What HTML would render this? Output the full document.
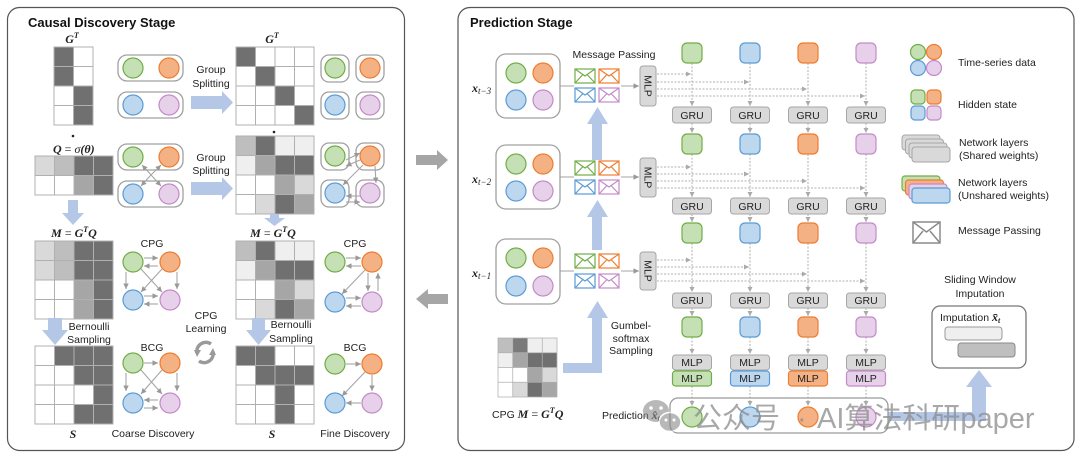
<!DOCTYPE html>
<html><head><meta charset="utf-8"><style>
html,body{margin:0;padding:0;background:#fff;overflow:hidden}
svg{display:block}
text{font-family:"Liberation Sans","Noto Sans CJK SC",sans-serif;fill:#222;font-size:10.5px}
.t{font-size:13px;font-weight:bold;fill:#111}
.m{font-family:"Liberation Serif",serif;font-weight:bold;font-style:italic;font-size:12px}
.c{text-anchor:middle}
.cg{fill:#c5e0b4;stroke:#70ad47;stroke-width:1.2}
.co{fill:#f4b183;stroke:#ed7d31;stroke-width:1.2}
.cb{fill:#bdd7ee;stroke:#5b9bd5;stroke-width:1.2}
.cp{fill:#e6d0ea;stroke:#c48ac8;stroke-width:1.2}
.pill{fill:#fff;stroke:#a0a0a0;stroke-width:1.3}
.gr{fill:none;stroke:#b0b0b0;stroke-width:1}
.a{stroke:#a6a6a6;stroke-width:1.1;fill:none;marker-end:url(#ah)}
.d{stroke:#b0b0b0;stroke-width:1;stroke-dasharray:2 1.5;fill:none;marker-end:url(#ah2)}
.bl{fill:#b4c7e7}
.box{fill:#d9d9d9;stroke:#a6a6a6;stroke-width:1}
.D{fill:#707070}.M1{fill:#a6a6a6}.M2{fill:#bebebe}.L{fill:#d9d9d9}.VL{fill:#efefef}
</style></head><body>
<svg width="1080" height="461" viewBox="0 0 1080 461" xmlns="http://www.w3.org/2000/svg">
<defs>
<marker id="ah" viewBox="0 0 6 6" markerWidth="5" markerHeight="5" refX="6" refY="3" orient="auto"><path d="M0,0L6,3L0,6z" fill="#999"/></marker>
<marker id="ah2" viewBox="0 0 6 6" markerWidth="5" markerHeight="5" refX="6" refY="3" orient="auto"><path d="M0,0L6,3L0,6z" fill="#aaa"/></marker>
</defs>

<!-- panels -->
<rect x="7.5" y="7.5" width="397" height="443" rx="12" fill="#fff" stroke="#555" stroke-width="1.2"/>
<rect x="458" y="7.5" width="616" height="443" rx="12" fill="#fff" stroke="#555" stroke-width="1.2"/>
<text class="t" x="28" y="27">Causal Discovery Stage</text>
<text class="t" x="470" y="27">Prediction Stage</text>

<!-- gray arrows between panels -->
<path fill="#a6a6a6" d="M416,155H437V150L448,160L437,170V165H416Z"/>
<path fill="#a6a6a6" d="M448,294H428V289L416,299L428,309V304H448Z"/>

<!-- ===== LEFT PANEL ===== -->
<text class="m c" x="72" y="43">G<tspan font-size="8" dy="-5">T</tspan></text>
<g transform="translate(54,47)">
<rect width="39" height="78" fill="#fff"/>
<rect class="D" x="0" y="0" width="19.5" height="39"/>
<rect class="D" x="19.5" y="39" width="19.5" height="39"/>
<path class="gr" d="M19.5,0V78M0,19.5H39M0,39H39M0,58.5H39"/>
<rect class="gr" width="39" height="78"/>
</g>
<circle cx="73" cy="136" r="1.3" fill="#222"/>
<text class="m" x="53" y="153">Q <tspan font-style="normal" font-weight="normal">=</tspan> <tspan font-weight="normal">σ</tspan>(θ)</text>
<g transform="translate(35,156)">
<rect width="78" height="39" fill="#fff"/>
<rect class="L" x="0" y="0" width="19.5" height="19.5"/>
<rect class="M2" x="19.5" y="0" width="19.5" height="19.5"/>
<rect class="D" x="39" y="0" width="39" height="19.5"/>
<rect class="M1" x="39" y="19.5" width="19.5" height="19.5"/>
<rect class="D" x="58.5" y="19.5" width="19.5" height="19.5"/>
<path class="gr" d="M19.5,0V39M39,0V39M58.5,0V39M0,19.5H78"/>
<rect class="gr" width="78" height="39"/>
</g>
<path class="bl" d="M68,200H78V213H84L73,225L62,213H68Z"/>

<!-- group nodes left -->
<rect class="pill" x="118" y="55" width="65" height="26" rx="9"/>
<rect class="pill" x="118" y="92" width="65" height="26" rx="9"/>
<circle class="cg" cx="133" cy="68" r="10"/><circle class="co" cx="169" cy="68" r="10"/>
<circle class="cb" cx="133" cy="105" r="10"/><circle class="cp" cx="169" cy="105" r="10"/>

<rect class="pill" x="118" y="144" width="65" height="26" rx="9"/>
<rect class="pill" x="118" y="181" width="65" height="26" rx="9"/>
<circle class="cg" cx="133" cy="157" r="10"/><circle class="co" cx="169" cy="157" r="10"/>
<circle class="cb" cx="133" cy="194" r="10"/><circle class="cp" cx="169" cy="194" r="10"/>
<path class="a" d="M152,176L142,165"/>
<path class="a" d="M150,176L161,165"/>
<path class="a" d="M150,176L141,186"/>
<path class="a" d="M152,176L161,186"/>

<text class="c" x="211" y="73">Group</text><text class="c" x="211" y="87">Splitting</text>
<text class="c" x="211" y="161">Group</text><text class="c" x="211" y="174">Splitting</text>
<path class="bl" d="M191,96H222V91L233,102.5L222,114V109H191Z"/>
<path class="bl" d="M191,182H222V177L233,188.5L222,200V195H191Z"/>

<!-- right G^T -->
<text class="m c" x="272" y="43">G<tspan font-size="8" dy="-5">T</tspan></text>
<g transform="translate(236,47)">
<rect width="78" height="78" fill="#fff"/>
<rect class="D" x="0" y="0" width="19.5" height="19.5"/>
<rect class="D" x="19.5" y="19.5" width="19.5" height="19.5"/>
<rect class="D" x="39" y="39" width="19.5" height="19.5"/>
<rect class="D" x="58.5" y="58.5" width="19.5" height="19.5"/>
<path class="gr" d="M19.5,0V78M39,0V78M58.5,0V78M0,19.5H78M0,39H78M0,58.5H78"/>
<rect class="gr" width="78" height="78"/>
</g>
<circle cx="274" cy="132" r="1.3" fill="#222"/>
<!-- fine Q -->
<g transform="translate(236,136)">
<rect width="78" height="78" fill="#fff"/>
<rect class="M2" x="0" y="0" width="19.5" height="19.5"/><rect class="D" x="19.5" y="0" width="19.5" height="19.5"/><rect class="VL" x="39" y="0" width="39" height="19.5"/>
<rect class="VL" x="0" y="19.5" width="19.5" height="19.5"/><rect class="M1" x="19.5" y="19.5" width="19.5" height="19.5"/><rect class="D" x="39" y="19.5" width="39" height="19.5"/>
<rect class="M1" x="39" y="39" width="19.5" height="19.5"/><rect class="L" x="58.5" y="39" width="19.5" height="19.5"/>
<rect class="L" x="19.5" y="58.5" width="19.5" height="19.5"/><rect class="D" x="39" y="58.5" width="19.5" height="19.5"/><rect class="M1" x="58.5" y="58.5" width="19.5" height="19.5"/>
<path class="gr" d="M19.5,0V78M39,0V78M58.5,0V78M0,19.5H78M0,39H78M0,58.5H78"/>
<rect class="gr" width="78" height="78"/>
</g>
<path class="bl" d="M270,214H279V218H285L274.5,226L264,218H270Z"/>

<!-- right nodes -->
<rect class="pill" x="321" y="55" width="28" height="27" rx="8"/><rect class="pill" x="356" y="55" width="28" height="27" rx="8"/>
<rect class="pill" x="321" y="92" width="28" height="27" rx="8"/><rect class="pill" x="356" y="92" width="28" height="27" rx="8"/>
<circle class="cg" cx="335" cy="68" r="10"/><circle class="co" cx="370" cy="68" r="10"/>
<circle class="cb" cx="335" cy="105" r="10"/><circle class="cp" cx="370" cy="105" r="10"/>
<rect class="pill" x="321" y="143" width="28" height="27" rx="8"/><rect class="pill" x="356" y="143" width="28" height="27" rx="8"/>
<rect class="pill" x="321" y="180" width="28" height="27" rx="8"/><rect class="pill" x="356" y="180" width="28" height="27" rx="8"/>
<circle class="cg" cx="335" cy="156" r="10"/><circle class="co" cx="370" cy="156" r="10"/>
<circle class="cb" cx="335" cy="193" r="10"/><circle class="cp" cx="370" cy="193" r="10"/>
<path class="a" d="M346,160L360,153"/>
<path class="a" d="M360,160L346,166"/>
<path class="a" d="M363,165L343,185"/>
<path class="a" d="M375,166L376,183"/>
<path class="a" d="M360,196L346,196"/>
<path class="a" d="M346,202L360,202"/>

<!-- coarse M -->
<text class="m c" x="74" y="237">M <tspan font-style="normal" font-weight="normal">=</tspan> G<tspan font-size="8" dy="-5">T</tspan><tspan dy="5">Q</tspan></text>
<g transform="translate(35,241)">
<rect width="78" height="78" fill="#fff"/>
<rect class="L" x="0" y="0" width="19.5" height="39"/><rect class="M2" x="19.5" y="0" width="19.5" height="39"/><rect class="D" x="39" y="0" width="39" height="39"/>
<rect class="M1" x="39" y="39" width="19.5" height="39"/><rect class="D" x="58.5" y="39" width="19.5" height="39"/>
<path class="gr" d="M19.5,0V78M39,0V78M58.5,0V78M0,19.5H78M0,39H78M0,58.5H78"/>
<rect class="gr" width="78" height="78"/>
</g>
<path class="bl" d="M48,318H62V330H68L55,345L42,330H48Z"/>
<text class="c" x="89" y="330">Bernoulli</text><text class="c" x="89" y="343">Sampling</text>
<!-- coarse S -->
<g transform="translate(35,346)">
<rect width="78" height="78" fill="#fff"/>
<rect class="D" x="19.5" y="0" width="58.5" height="19.5"/>
<rect class="D" x="39" y="19.5" width="39" height="19.5"/>
<rect class="D" x="58.5" y="39" width="19.5" height="19.5"/>
<rect class="D" x="39" y="58.5" width="39" height="19.5"/>
<path class="gr" d="M19.5,0V78M39,0V78M58.5,0V78M0,19.5H78M0,39H78M0,58.5H78"/>
<rect class="gr" width="78" height="78"/>
</g>
<text class="m c" x="73" y="438">S</text>

<!-- coarse CPG graph -->
<text class="c" x="152" y="247">CPG</text>
<path class="a" d="M144,258L158,258"/><path class="a" d="M158,266L144,266"/>
<path class="a" d="M126,272L126,289"/><path class="a" d="M177,272L177,289"/>
<path class="a" d="M141,269L162,292"/><path class="a" d="M162,269L141,292"/>
<path class="a" d="M144,296L158,296"/><path class="a" d="M158,304L144,304"/>
<circle class="cg" cx="133" cy="262" r="10"/><circle class="co" cx="170" cy="262" r="10"/>
<circle class="cb" cx="133" cy="300" r="10"/><circle class="cp" cx="170" cy="300" r="10"/>

<text class="c" x="206" y="319">CPG</text><text class="c" x="206" y="332">Learning</text>
<path d="M211,344A9,9 0 0 0 197,353" stroke="#9a9a9a" stroke-width="3.5" fill="none"/>
<path d="M194,350L201,350L197,357Z" fill="#9a9a9a"/>
<path d="M199,361A9,9 0 0 0 213,352" stroke="#9a9a9a" stroke-width="3.5" fill="none"/>
<path d="M216,355L209,355L213,348Z" fill="#9a9a9a"/>

<!-- coarse BCG -->
<text class="c" x="152" y="351">BCG</text>
<path class="a" d="M144,363L158,363"/>
<path class="a" d="M126,373L126,391"/><path class="a" d="M177,373L177,391"/>
<path class="a" d="M141,370L162,394"/><path class="a" d="M162,370L141,394"/>
<path class="a" d="M158,400L144,400"/><path class="a" d="M144,408L158,408"/>
<circle class="cg" cx="133" cy="363" r="10"/><circle class="co" cx="170" cy="363" r="10"/>
<circle class="cb" cx="133" cy="403" r="10"/><circle class="cp" cx="170" cy="403" r="10"/>
<text class="c" x="153" y="437">Coarse Discovery</text>

<!-- fine M -->
<text class="m c" x="273" y="237">M <tspan font-style="normal" font-weight="normal">=</tspan> G<tspan font-size="8" dy="-5">T</tspan><tspan dy="5">Q</tspan></text>
<g transform="translate(236,241)">
<rect width="78" height="78" fill="#fff"/>
<rect class="M2" x="0" y="0" width="19.5" height="19.5"/><rect class="D" x="19.5" y="0" width="19.5" height="19.5"/><rect class="VL" x="39" y="0" width="39" height="19.5"/>
<rect class="VL" x="0" y="19.5" width="19.5" height="19.5"/><rect class="M1" x="19.5" y="19.5" width="19.5" height="19.5"/><rect class="D" x="39" y="19.5" width="39" height="19.5"/>
<rect class="M1" x="39" y="39" width="19.5" height="19.5"/><rect class="L" x="58.5" y="39" width="19.5" height="19.5"/>
<rect class="L" x="19.5" y="58.5" width="19.5" height="19.5"/><rect class="D" x="39" y="58.5" width="19.5" height="19.5"/><rect class="M1" x="58.5" y="58.5" width="19.5" height="19.5"/>
<path class="gr" d="M19.5,0V78M39,0V78M58.5,0V78M0,19.5H78M0,39H78M0,58.5H78"/>
<rect class="gr" width="78" height="78"/>
</g>
<path class="bl" d="M252,318H265V330H271L258.5,345L246,330H252Z"/>
<text class="c" x="291" y="328">Bernoulli</text><text class="c" x="291" y="342">Sampling</text>
<g transform="translate(236,346)">
<rect width="78" height="78" fill="#fff"/>
<rect class="D" x="0" y="0" width="39" height="19.5"/>
<rect class="D" x="19.5" y="19.5" width="58.5" height="19.5"/>
<rect class="D" x="39" y="39" width="19.5" height="39"/>
<path class="gr" d="M19.5,0V78M39,0V78M58.5,0V78M0,19.5H78M0,39H78M0,58.5H78"/>
<rect class="gr" width="78" height="78"/>
</g>
<text class="m c" x="272" y="438">S</text>

<!-- fine CPG -->
<text class="c" x="355" y="247">CPG</text>
<path class="a" d="M346,258L361,258"/><path class="a" d="M361,266L346,266"/>
<path class="a" d="M365,270L342,294"/>
<path class="a" d="M368,273L368,291"/><path class="a" d="M378,291L378,273"/>
<path class="a" d="M346,298L361,298"/><path class="a" d="M361,306L346,306"/>
<circle class="cg" cx="335" cy="262" r="10"/><circle class="co" cx="372" cy="262" r="10"/>
<circle class="cb" cx="335" cy="302" r="10"/><circle class="cp" cx="372" cy="302" r="10"/>
<!-- fine BCG -->
<text class="c" x="355" y="351">BCG</text>
<path class="a" d="M346,364L361,364"/>
<path class="a" d="M365,372L342,396"/>
<path class="a" d="M372,375L372,391"/>
<path class="a" d="M361,403L346,403"/>
<circle class="cg" cx="335" cy="364" r="10"/><circle class="co" cx="372" cy="364" r="10"/>
<circle class="cb" cx="335" cy="403" r="10"/><circle class="cp" cx="372" cy="403" r="10"/>
<text class="c" x="355" y="437">Fine Discovery</text>

<!-- ===== RIGHT PANEL ===== -->
<text class="c" x="614" y="58">Message Passing</text>

<!-- blue arrows -->
<path class="bl" d="M592,160V124H587L597.5,107L608,124H602V160Z"/>
<path class="bl" d="M592,250V217H587L597.5,200L608,217H602V250Z"/>
<path class="bl" d="M563,363H592V318H587L597.5,301L608,318H602V373H563Z"/>

<!-- x groups -->
<text class="m" x="472" y="92">x<tspan font-size="9" dy="2" font-weight="normal">t−3</tspan></text>
<text class="m" x="472" y="183">x<tspan font-size="9" dy="2" font-weight="normal">t−2</tspan></text>
<text class="m" x="472" y="277">x<tspan font-size="9" dy="2" font-weight="normal">t−1</tspan></text>

<rect class="pill" x="496" y="54" width="64" height="64" rx="10"/>
<circle class="cg" cx="516" cy="73" r="10"/><circle class="co" cx="543" cy="73" r="10"/>
<circle class="cb" cx="516" cy="100" r="10"/><circle class="cp" cx="543" cy="100" r="10"/>
<rect class="pill" x="496" y="145" width="64" height="64" rx="10"/>
<circle class="cg" cx="516" cy="164" r="10"/><circle class="co" cx="543" cy="164" r="10"/>
<circle class="cb" cx="516" cy="191" r="10"/><circle class="cp" cx="543" cy="191" r="10"/>
<rect class="pill" x="496" y="239" width="64" height="65" rx="10"/>
<circle class="cg" cx="516" cy="258" r="10"/><circle class="co" cx="543" cy="258" r="10"/>
<circle class="cb" cx="516" cy="286" r="10"/><circle class="cp" cx="543" cy="286" r="10"/>

<path stroke="#a0a0a0" stroke-width="1" d="M560,86H574M560,177H574M560,271H574"/>
<path class="a" d="M621,86H639"/><path class="a" d="M621,177H639"/><path class="a" d="M621,271H639"/>

<!-- envelopes -->
<g fill="none" stroke-width="1.2">
<g transform="translate(575,69)" stroke="#70ad47"><rect width="20" height="14"/><path d="M0,0L10,7L20,0M0,14L7.5,6M20,14L12.5,6"/></g>
<g transform="translate(599,69)" stroke="#ed7d31"><rect width="20" height="14"/><path d="M0,0L10,7L20,0M0,14L7.5,6M20,14L12.5,6"/></g>
<g transform="translate(575,88)" stroke="#5b9bd5"><rect width="20" height="14"/><path d="M0,0L10,7L20,0M0,14L7.5,6M20,14L12.5,6"/></g>
<g transform="translate(599,88)" stroke="#c48ac8"><rect width="20" height="14"/><path d="M0,0L10,7L20,0M0,14L7.5,6M20,14L12.5,6"/></g>
<g transform="translate(575,161)" stroke="#70ad47"><rect width="20" height="14"/><path d="M0,0L10,7L20,0M0,14L7.5,6M20,14L12.5,6"/></g>
<g transform="translate(599,161)" stroke="#ed7d31"><rect width="20" height="14"/><path d="M0,0L10,7L20,0M0,14L7.5,6M20,14L12.5,6"/></g>
<g transform="translate(575,180)" stroke="#5b9bd5"><rect width="20" height="14"/><path d="M0,0L10,7L20,0M0,14L7.5,6M20,14L12.5,6"/></g>
<g transform="translate(599,180)" stroke="#c48ac8"><rect width="20" height="14"/><path d="M0,0L10,7L20,0M0,14L7.5,6M20,14L12.5,6"/></g>
<g transform="translate(575,254)" stroke="#70ad47"><rect width="20" height="14"/><path d="M0,0L10,7L20,0M0,14L7.5,6M20,14L12.5,6"/></g>
<g transform="translate(599,254)" stroke="#ed7d31"><rect width="20" height="14"/><path d="M0,0L10,7L20,0M0,14L7.5,6M20,14L12.5,6"/></g>
<g transform="translate(575,274)" stroke="#5b9bd5"><rect width="20" height="14"/><path d="M0,0L10,7L20,0M0,14L7.5,6M20,14L12.5,6"/></g>
<g transform="translate(599,274)" stroke="#c48ac8"><rect width="20" height="14"/><path d="M0,0L10,7L20,0M0,14L7.5,6M20,14L12.5,6"/></g>
<g transform="translate(913,222)" stroke="#8a8a8a" stroke-width="1.5"><rect width="27" height="21"/><path d="M0,0L13.5,10L27,0M0,21L10,9M27,21L17,9"/></g>
</g>

<!-- MLP vertical -->
<rect class="box" x="640" y="66" width="16" height="40" rx="3"/>
<rect class="box" x="640" y="158" width="16" height="39" rx="3"/>
<rect class="box" x="640" y="252" width="16" height="38" rx="3"/>
<text class="c" transform="translate(648,86) rotate(90)" dy="3.6" font-size="10">MLP</text>
<text class="c" transform="translate(648,177.5) rotate(90)" dy="3.6" font-size="10">MLP</text>
<text class="c" transform="translate(648,271) rotate(90)" dy="3.6" font-size="10">MLP</text>

<!-- horizontal dashed -->
<path class="d" d="M657,74H691"/><path class="d" d="M657,82H749"/><path class="d" d="M657,89H807"/><path class="d" d="M657,96H865"/>
<path class="d" d="M657,167H691"/><path class="d" d="M657,174H749"/><path class="d" d="M657,181H807"/><path class="d" d="M657,188H865"/>
<path class="d" d="M657,260H691"/><path class="d" d="M657,267H749"/><path class="d" d="M657,274H807"/><path class="d" d="M657,281H865"/>

<!-- vertical dotted per column -->
<g>
<path class="d" d="M692,63V106"/><path class="d" d="M692,123V133"/><path class="d" d="M692,154V197"/><path class="d" d="M692,214V222"/><path class="d" d="M692,243V292"/><path class="d" d="M692,308V316"/><path class="d" d="M692,337V354"/><path class="d" d="M692,386V406"/>
<path class="d" d="M750,63V106"/><path class="d" d="M750,123V133"/><path class="d" d="M750,154V197"/><path class="d" d="M750,214V222"/><path class="d" d="M750,243V292"/><path class="d" d="M750,308V316"/><path class="d" d="M750,337V354"/><path class="d" d="M750,386V406"/>
<path class="d" d="M808,63V106"/><path class="d" d="M808,123V133"/><path class="d" d="M808,154V197"/><path class="d" d="M808,214V222"/><path class="d" d="M808,243V292"/><path class="d" d="M808,308V316"/><path class="d" d="M808,337V354"/><path class="d" d="M808,386V406"/>
<path class="d" d="M866,63V106"/><path class="d" d="M866,123V133"/><path class="d" d="M866,154V197"/><path class="d" d="M866,214V222"/><path class="d" d="M866,243V292"/><path class="d" d="M866,308V316"/><path class="d" d="M866,337V354"/><path class="d" d="M866,386V406"/>
</g>

<!-- hidden states -->
<rect class="cg" x="682" y="43" width="20" height="20" rx="5"/><rect class="cb" x="740" y="43" width="20" height="20" rx="5"/><rect class="co" x="798" y="43" width="20" height="20" rx="5"/><rect class="cp" x="856" y="43" width="20" height="20" rx="5"/>
<rect class="cg" x="682" y="134" width="20" height="20" rx="5"/><rect class="cb" x="740" y="134" width="20" height="20" rx="5"/><rect class="co" x="798" y="134" width="20" height="20" rx="5"/><rect class="cp" x="856" y="134" width="20" height="20" rx="5"/>
<rect class="cg" x="682" y="223" width="20" height="20" rx="5"/><rect class="cb" x="740" y="223" width="20" height="20" rx="5"/><rect class="co" x="798" y="223" width="20" height="20" rx="5"/><rect class="cp" x="856" y="223" width="20" height="20" rx="5"/>
<rect class="cg" x="682" y="317" width="20" height="20" rx="5"/><rect class="cb" x="740" y="317" width="20" height="20" rx="5"/><rect class="co" x="798" y="317" width="20" height="20" rx="5"/><rect class="cp" x="856" y="317" width="20" height="20" rx="5"/>

<!-- GRU boxes -->
<g>
<rect class="box" x="672.5" y="107" width="39" height="16" rx="3"/><rect class="box" x="730.5" y="107" width="39" height="16" rx="3"/><rect class="box" x="788.5" y="107" width="39" height="16" rx="3"/><rect class="box" x="846.5" y="107" width="39" height="16" rx="3"/>
<rect class="box" x="672.5" y="198" width="39" height="16" rx="3"/><rect class="box" x="730.5" y="198" width="39" height="16" rx="3"/><rect class="box" x="788.5" y="198" width="39" height="16" rx="3"/><rect class="box" x="846.5" y="198" width="39" height="16" rx="3"/>
<rect class="box" x="672.5" y="293" width="39" height="15" rx="3"/><rect class="box" x="730.5" y="293" width="39" height="15" rx="3"/><rect class="box" x="788.5" y="293" width="39" height="15" rx="3"/><rect class="box" x="846.5" y="293" width="39" height="15" rx="3"/>
</g>
<g font-size="10.5">
<text class="c" x="692" y="119">GRU</text><text class="c" x="750" y="119">GRU</text><text class="c" x="808" y="119">GRU</text><text class="c" x="866" y="119">GRU</text>
<text class="c" x="692" y="210">GRU</text><text class="c" x="750" y="210">GRU</text><text class="c" x="808" y="210">GRU</text><text class="c" x="866" y="210">GRU</text>
<text class="c" x="692" y="304">GRU</text><text class="c" x="750" y="304">GRU</text><text class="c" x="808" y="304">GRU</text><text class="c" x="866" y="304">GRU</text>
</g>

<!-- MLP stacks -->
<rect class="box" x="672.5" y="355" width="39" height="15" rx="3"/><rect class="box" x="730.5" y="355" width="39" height="15" rx="3"/><rect class="box" x="788.5" y="355" width="39" height="15" rx="3"/><rect class="box" x="846.5" y="355" width="39" height="15" rx="3"/>
<rect class="cg" x="672.5" y="371" width="39" height="15" rx="3"/><rect class="cb" x="730.5" y="371" width="39" height="15" rx="3"/><rect class="co" x="788.5" y="371" width="39" height="15" rx="3"/><rect class="cp" x="846.5" y="371" width="39" height="15" rx="3"/>
<text class="c" x="692" y="366">MLP</text><text class="c" x="750" y="366">MLP</text><text class="c" x="808" y="366">MLP</text><text class="c" x="866" y="366">MLP</text>
<text class="c" x="692" y="382">MLP</text><text class="c" x="750" y="382">MLP</text><text class="c" x="808" y="382">MLP</text><text class="c" x="866" y="382">MLP</text>

<!-- prediction -->
<path class="bl" d="M888,412H972V387H966L979,370L992,387H986V421H888Z"/>
<rect x="670" y="398" width="218" height="35" rx="8" fill="none" stroke="#9a9a9a" stroke-width="1.3"/>
<circle class="cg" cx="692" cy="417" r="10"/><circle class="cb" cx="750" cy="417" r="10"/><circle class="co" cx="808" cy="417" r="10"/><circle class="cp" cx="866" cy="417" r="10"/>
<text x="602" y="419">Prediction <tspan class="m" font-size="11">x̂<tspan font-size="8" dy="2">t</tspan></tspan></text>

<!-- CPG matrix in prediction -->
<g transform="translate(498,338) scale(0.7564)">
<rect width="78" height="78" fill="#fff"/>
<rect class="M2" x="0" y="0" width="19.5" height="19.5"/><rect fill="#7a7a7a" x="19.5" y="0" width="19.5" height="19.5"/><rect class="VL" x="39" y="0" width="39" height="19.5"/>
<rect class="VL" x="0" y="19.5" width="19.5" height="19.5"/><rect class="M1" x="19.5" y="19.5" width="19.5" height="19.5"/><rect class="D" x="39" y="19.5" width="39" height="19.5"/>
<rect class="M1" x="39" y="39" width="19.5" height="19.5"/><rect class="L" x="58.5" y="39" width="19.5" height="19.5"/>
<rect class="L" x="19.5" y="58.5" width="19.5" height="19.5"/><rect class="D" x="39" y="58.5" width="19.5" height="19.5"/><rect class="M1" x="58.5" y="58.5" width="19.5" height="19.5"/>
<path class="gr" d="M19.5,0V78M39,0V78M58.5,0V78M0,19.5H78M0,39H78M0,58.5H78"/>
<rect class="gr" width="78" height="78"/>
</g>
<text x="492" y="418">CPG <tspan class="m">M <tspan font-style="normal" font-weight="normal">=</tspan> G<tspan font-size="8" dy="-5">T</tspan><tspan dy="5">Q</tspan></tspan></text>
<text class="c" x="631" y="329">Gumbel-</text><text class="c" x="631" y="342">softmax</text><text class="c" x="631" y="354">Sampling</text>

<!-- imputation -->
<text class="c" x="980" y="283">Sliding Window</text><text class="c" x="980" y="297">Imputation</text>
<rect x="932" y="306" width="94" height="62" rx="8" fill="#fff" stroke="#777" stroke-width="1.3"/>
<text x="940" y="321">Imputation <tspan class="m" font-size="11">x̄<tspan font-size="8" dy="2">t</tspan></tspan></text>
<rect x="945" y="327" width="57" height="13" rx="3" fill="#efefef" stroke="#999"/>
<rect x="958" y="343" width="57" height="14" rx="3" fill="#bfbfbf" stroke="#888"/>

<!-- legend -->
<circle class="cg" cx="918" cy="52" r="7.5"/><circle class="co" cx="934" cy="52" r="7.5"/>
<circle class="cb" cx="918" cy="68" r="7.5"/><circle class="cp" cx="934" cy="68" r="7.5"/>
<text x="958" y="66">Time-series data</text>
<rect class="cg" x="911" y="90" width="14" height="14" rx="4"/><rect class="co" x="927" y="90" width="14" height="14" rx="4"/>
<rect class="cb" x="911" y="106" width="14" height="14" rx="4"/><rect class="cp" x="927" y="106" width="14" height="14" rx="4"/>
<text x="958" y="108">Hidden state</text>
<rect class="box" x="902" y="135" width="38" height="15" rx="3"/><rect class="box" x="905.5" y="139" width="38" height="15" rx="3"/><rect class="box" x="909" y="143" width="38" height="15" rx="3"/><rect class="box" x="912" y="147" width="38" height="15" rx="3"/>
<text x="959" y="146">Network layers</text><text x="959" y="159">(Shared weights)</text>
<rect class="cg" x="902" y="176" width="38" height="15" rx="3"/><rect class="co" x="905.5" y="180" width="38" height="15" rx="3"/><rect class="cp" x="909" y="184" width="38" height="15" rx="3"/><rect class="cb" x="912" y="188" width="38" height="15" rx="3"/>
<text x="958" y="186">Network layers</text><text x="958" y="199">(Unshared weights)</text>
<text x="958" y="234">Message Passing</text>

<!-- watermark -->
<g opacity="0.6">
<ellipse cx="656" cy="411" rx="13" ry="11" fill="#8a8a8a"/>
<ellipse cx="670" cy="422" rx="11" ry="9.5" fill="#8a8a8a" stroke="#fff" stroke-width="1.5"/>
<circle cx="651" cy="408" r="1.8" fill="#fff"/><circle cx="661" cy="408" r="1.8" fill="#fff"/>
<circle cx="666" cy="420" r="1.5" fill="#fff"/><circle cx="674" cy="420" r="1.5" fill="#fff"/>
</g>
<g font-size="29" fill="#8c8c8c" opacity="0.75" style="font-family:'Liberation Sans','Noto Sans CJK SC',sans-serif">
<text x="693" y="428" font-size="29" fill="#8c8c8c" style="fill:#8c8c8c;font-size:29px">公众号</text>
<text x="797" y="428" style="fill:#8c8c8c;font-size:29px">·</text>
<text x="817" y="428" style="fill:#8c8c8c;font-size:29px">AI算法科研paper</text>
</g>
</svg>
</body></html>
